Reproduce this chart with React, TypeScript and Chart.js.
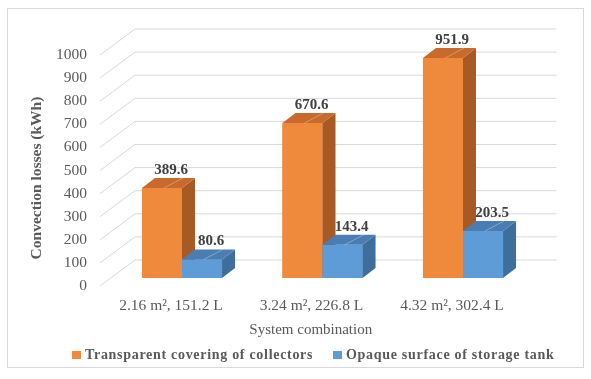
import React, { useEffect, useRef } from "react";
import { Chart, registerables } from "chart.js";

Chart.register(...registerables);

const categories = ["2.16 m², 151.2 L", "3.24 m², 226.8 L", "4.32 m², 302.4 L"];
const transparentCovering = [389.6, 670.6, 951.9];
const opaqueSurface = [80.6, 143.4, 203.5];
const seriesNames = ["Transparent covering of collectors", "Opaque surface of storage tank"];
const yMin = 0;
const yMax = 1000;
const yStep = 100;
const yAxisTitle = "Convection losses (kWh)";
const xAxisTitle = "System combination";

const FRONT = ["#EF893B", "#5E9CD7"];
const SIDE = ["#A85A24", "#3E6E9B"];
const TOP = ["#C76A2B", "#4A7EB2"];

const FONT = "'Liberation Serif', 'Times New Roman', serif";
const GRID = "#d9d9d9";
const AXIS_TEXT = "#595959";
const LABEL_TEXT = "#404040";

// 3D geometry offsets (px)
const DEPTH_X = 13;
const DEPTH_Y = -10;
const FRONT_X = -11.75;
const FRONT_Y = 8;
const BACK_X = 23.25;
const BACK_Y = -18;

const threeD = {
  id: "threeD",
  beforeDraw(chart: any) {
    const ctx = chart.ctx;
    const a = chart.chartArea;
    const ys = chart.scales.y;
    ctx.save();
    ctx.fillStyle = "#ffffff";
    ctx.fillRect(0, 0, chart.width, chart.height);
    ctx.strokeStyle = GRID;
    ctx.lineWidth = 1;
    ctx.strokeRect(7.5, 8.5, 576, 359);
    ys.ticks.forEach((t: any) => {
      const py = ys.getPixelForValue(t.value);
      ctx.beginPath();
      ctx.moveTo(a.left + FRONT_X, py + FRONT_Y);
      ctx.lineTo(a.left + BACK_X, py + BACK_Y);
      ctx.lineTo(a.right + BACK_X, py + BACK_Y);
      ctx.stroke();
    });
    ctx.restore();
  },
  afterDatasetsDraw(chart: any) {
    const ctx = chart.ctx;
    ctx.save();
    chart.data.datasets.forEach((ds: any, di: number) => {
      const meta = chart.getDatasetMeta(di);
      meta.data.forEach((bar: any) => {
        const p = bar.getProps(["x", "y", "base", "width"], true);
        const x1 = p.x - p.width / 2;
        const x2 = p.x + p.width / 2;
        const yt = p.y;
        const yb = p.base;
        ctx.fillStyle = FRONT[di];
        ctx.fillRect(x1, yt, x2 - x1, yb - yt);
        ctx.fillStyle = SIDE[di];
        ctx.beginPath();
        ctx.moveTo(x2, yt);
        ctx.lineTo(x2 + DEPTH_X, yt + DEPTH_Y);
        ctx.lineTo(x2 + DEPTH_X, yb + DEPTH_Y);
        ctx.lineTo(x2, yb);
        ctx.closePath();
        ctx.fill();
        ctx.fillStyle = TOP[di];
        ctx.beginPath();
        ctx.moveTo(x1, yt);
        ctx.lineTo(x1 + DEPTH_X, yt + DEPTH_Y);
        ctx.lineTo(x2 + DEPTH_X, yt + DEPTH_Y);
        ctx.lineTo(x2, yt);
        ctx.closePath();
        ctx.fill();
        ctx.strokeStyle = "rgba(255,255,255,0.3)";
        ctx.lineWidth = 1;
        ctx.beginPath();
        ctx.moveTo(x1 + (x2 - x1) * 0.55, yt);
        ctx.lineTo(x1 + (x2 - x1) * 0.55 + DEPTH_X + 6, yt + DEPTH_Y);
        ctx.stroke();
      });
    });
    ctx.font = `bold 15px ${FONT}`;
    ctx.fillStyle = LABEL_TEXT;
    ctx.textAlign = "center";
    ctx.textBaseline = "middle";
    chart.data.datasets.forEach((ds: any, di: number) => {
      const meta = chart.getDatasetMeta(di);
      meta.data.forEach((bar: any, i: number) => {
        const p = bar.getProps(["x", "y"], true);
        ctx.fillText(ds.data[i].toFixed(1), p.x + DEPTH_X * 0.7, p.y + DEPTH_Y - 8);
      });
    });
    ctx.restore();
  },
  afterDraw(chart: any) {
    const ctx = chart.ctx;
    const a = chart.chartArea;
    ctx.save();
    // y title
    ctx.font = `bold 15.5px ${FONT}`;
    ctx.fillStyle = AXIS_TEXT;
    ctx.textAlign = "center";
    ctx.textBaseline = "middle";
    ctx.translate(37, 178);
    ctx.rotate(-Math.PI / 2);
    ctx.fillText(yAxisTitle, 0, 0);
    ctx.setTransform(1, 0, 0, 1, 0, 0);
    // x title
    ctx.font = `15px ${FONT}`;
    ctx.fillText(xAxisTitle, (a.left + a.right) / 2 + FRONT_X, 330);
    // legend
    ctx.font = `bold 14px ${FONT}`;
    (ctx as any).letterSpacing = "0.7px";
    ctx.textAlign = "left";
    const items = [
      { x: 72, color: FRONT[0] },
      { x: 333, color: FRONT[1] },
    ];
    items.forEach((it, i) => {
      ctx.fillStyle = it.color;
      ctx.fillRect(it.x, 351, 9, 8);
      ctx.fillStyle = AXIS_TEXT;
      ctx.fillText(seriesNames[i], it.x + 13, 355);
    });
    ctx.restore();
  },
};

export default function App() {
  const ref = useRef<HTMLCanvasElement>(null);
  useEffect(() => {
    if (!ref.current) return;
    const chart = new Chart(ref.current, {
      type: "bar",
      data: {
        labels: categories,
        datasets: [
          { label: seriesNames[0], data: transparentCovering, backgroundColor: FRONT[0], borderWidth: 0 },
          { label: seriesNames[1], data: opaqueSurface, backgroundColor: FRONT[1], borderWidth: 0 },
        ],
      },
      options: {
        responsive: false,
        animation: false,
        devicePixelRatio: 1,
        layout: { padding: { left: 0, top: 47, right: 57.75, bottom: 61 } },
        datasets: { bar: { categoryPercentage: 0.57, barPercentage: 1 } },
        plugins: { legend: { display: false }, tooltip: { enabled: false } },
        scales: {
          x: {
            grid: { display: false, drawTicks: false },
            border: { display: false },
            ticks: { color: AXIS_TEXT, font: { family: FONT, size: 15.5 }, padding: 19, labelOffset: -11, maxRotation: 0 },
            afterFit: (s: any) => { s.height = 40; },
          },
          y: {
            min: yMin,
            max: yMax,
            grid: { display: false, drawTicks: false },
            border: { display: false },
            ticks: {
              stepSize: yStep,
              color: AXIS_TEXT,
              font: { family: FONT, size: 15.5 },
              padding: 24.75,
              labelOffset: 8,
              callback: (v: any) => String(v),
            },
            afterFit: (s: any) => { s.width = 111.75; },
          },
        },
      },
      plugins: [threeD],
    });
    return () => chart.destroy();
  }, []);
  return (
    <div style={{ position: "absolute", left: 0, top: 0, width: 591, height: 379 }}>
      <canvas ref={ref} width={591} height={379} />
    </div>
  );
}
